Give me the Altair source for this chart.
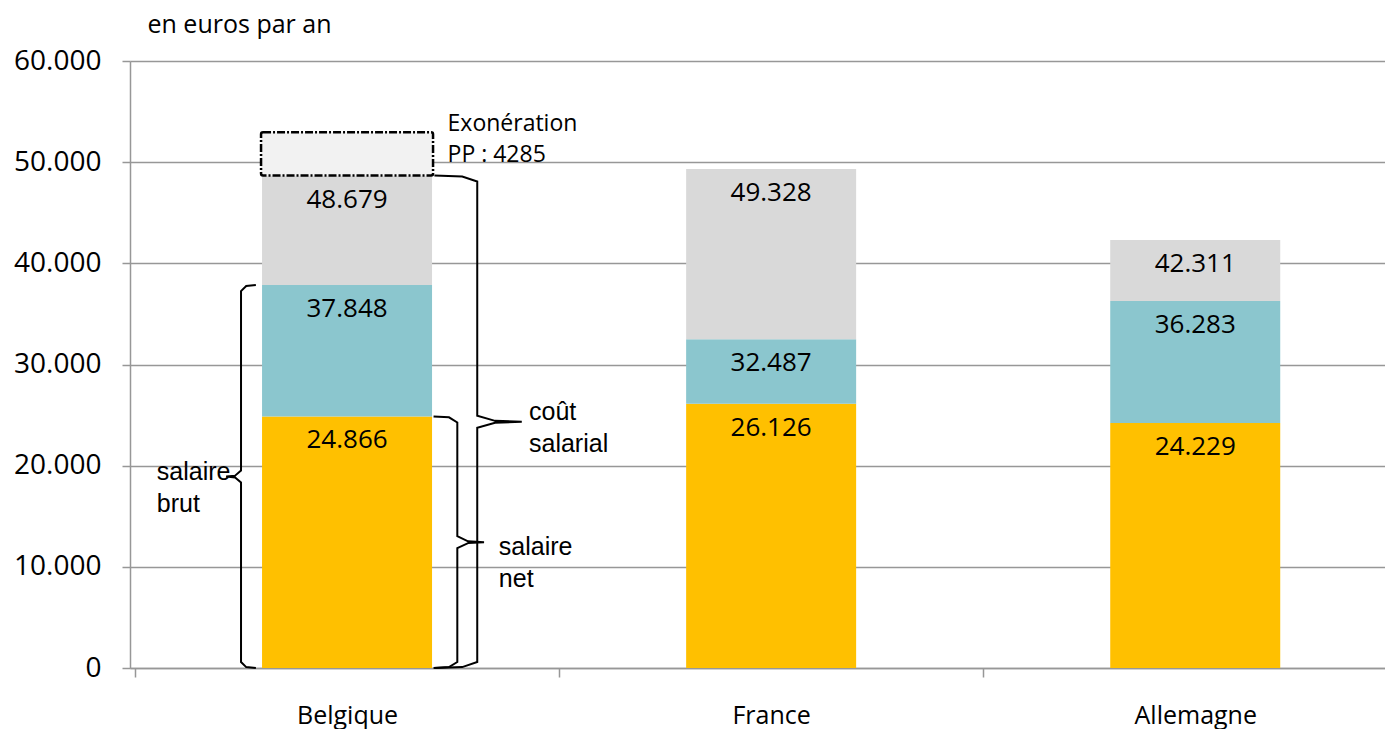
import altair as alt
import pandas as pd

# ---- data ----
countries = ["Belgique", "France", "Allemagne"]
salaire_net = [24866, 26126, 24229]
salaire_brut = [37848, 32487, 36283]
cout_salarial = [48679, 49328, 42311]
exoneration_pp = 4285          # Belgique only
exon_text = "Exonération\nPP : 4285"
label_brut = "salaire\nbrut"
label_net = "salaire\nnet"
label_cout = "coût\nsalarial"
y_title = "en euros par an"
y_ticks = [0, 10000, 20000, 30000, 40000, 50000, 60000]
segment_names = ["salaire net", "salaire brut", "coût salarial"]
segment_colors = ["#FFC000", "#8BC6CE", "#D9D9D9"]

# ---- layout / style ----
W, H = 1255, 607
PX = 427.5                     # pixels per category band
XMAX = W / PX
YMAX = 60000
FONT = "Open Sans"
ARIAL = "Liberation Sans"
GRID = "#979797"


def px2val(px):
    return px * YMAX / H


# segments
seg_rows, lab_rows = [], []
for i, c in enumerate(countries):
    center = i + 0.5
    bounds = [0, salaire_net[i], salaire_brut[i], cout_salarial[i]]
    for k, s in enumerate(segment_names):
        seg_rows.append({"country": c, "center": center, "segment": s,
                         "y0": bounds[k], "y1": bounds[k + 1]})
        lab_rows.append({"center": center, "top": bounds[k + 1]})
seg_df = pd.DataFrame(seg_rows)
lab_df = pd.DataFrame(lab_rows)

exon_df = pd.DataFrame([{"center": 0.5, "y0": cout_salarial[0],
                         "y1": cout_salarial[0] + exoneration_pp}])


# braces (built from the segment values of Belgique)
def brace(name, hook, line, tip, lo, hi):
    d = px2val(6)
    mid = (lo + hi) / 2
    pts = [
        (hook, hi),
        (line + (hook - line) * 0.35, hi - d * 0.15),
        (line, hi - d),
        (line, mid + d),
        (line + (tip - line) * 0.4, mid + d * 0.15),
        (tip, mid),
        (line + (tip - line) * 0.4, mid - d * 0.15),
        (line, mid - d),
        (line, lo + d),
        (line + (hook - line) * 0.35, lo + d * 0.15),
        (hook, lo),
    ]
    return [{"brace": name, "i": j, "x": x, "y": y} for j, (x, y) in enumerate(pts)]


c0 = 0.5
brace_df = pd.DataFrame(
    brace("brut", c0 - 0.215, c0 - 0.25, c0 - 0.285, 0, salaire_brut[0])
    + brace("net", c0 + 0.204, c0 + 0.26, c0 + 0.323, 0, salaire_net[0])
    + brace("cout", c0 + 0.206, c0 + 0.307, c0 + 0.412, 0, cout_salarial[0])
)

ann_df = pd.DataFrame([
    {"x": c0 - 0.4485, "y": salaire_brut[0] / 2 - px2val(3.5), "text": label_brut},
    {"x": c0 + 0.358, "y": salaire_net[0] / 2 - px2val(13), "text": label_net},
    {"x": c0 + 0.429, "y": cout_salarial[0] / 2 + px2val(2), "text": label_cout},
])
exon_lab_df = pd.DataFrame([{"x": c0 + 0.237,
                             "y": cout_salarial[0] + exoneration_pp + px2val(1),
                             "text": exon_text}])

x_scale = alt.Scale(domain=[0, XMAX], nice=False, zero=False)
y_scale = alt.Scale(domain=[0, YMAX], nice=False)

x_values = []
for i in range(len(countries)):
    x_values += [i, i + 0.5]
label_expr = " : ".join(f"datum.value == {i + 0.5} ? '{c}'" for i, c in enumerate(countries)) + " : ''"

x_axis = alt.Axis(
    values=x_values, labelExpr=label_expr, title=None, grid=False,
    tickSize=9, tickColor=GRID, tickWidth=1.5,
    tickOpacity={"condition": {"test": "datum.value % 1 === 0", "value": 1}, "value": 0},
    domainColor=GRID, domainWidth=1.5,
    labelFont=FONT, labelFontSize=25, labelColor="black",
    labelBaseline="alphabetic", labelPadding=46, labelOverlap=False,
    labelFlush=False, labelBound=False,
)
y_axis = alt.Axis(
    values=y_ticks, labelExpr="replace(format(datum.value, ','), ',', '.')",
    grid=True, gridColor=GRID, gridWidth=1.5,
    tickSize=8, tickColor=GRID, tickWidth=1.5,
    domainColor=GRID, domainWidth=1.5,
    labelFont=FONT, labelFontSize=28, labelColor="black", labelPadding=21,
    title=y_title, titleAngle=0, titleX=17, titleY=-29, titleAlign="left",
    titleBaseline="alphabetic", titleFont=FONT, titleFontSize=25,
    titleFontWeight="normal", titleColor="black",
)

bars = alt.Chart(seg_df).mark_bar(size=170).encode(
    x=alt.X("center:Q", scale=x_scale, axis=x_axis),
    y=alt.Y("y0:Q", scale=y_scale, axis=y_axis),
    y2="y1:Q",
    color=alt.Color("segment:N", scale=alt.Scale(domain=segment_names, range=segment_colors), legend=None),
)

exon = alt.Chart(exon_df).mark_bar(
    size=172, fill="#F2F2F2", stroke="black", strokeWidth=2.5, strokeDash=[8, 2, 2, 2],
    cornerRadius=2
).encode(x=alt.X("center:Q", scale=x_scale), y=alt.Y("y0:Q", scale=y_scale), y2="y1:Q")

labels = alt.Chart(lab_df).transform_calculate(
    label="replace(format(datum.top, ','), ',', '.')"
).mark_text(font=FONT, fontSize=26, baseline="middle", dy=24, color="black").encode(
    x=alt.X("center:Q", scale=x_scale), y=alt.Y("top:Q", scale=y_scale), text="label:N"
)

braces = alt.Chart(brace_df).mark_line(color="black", strokeWidth=2).encode(
    x=alt.X("x:Q", scale=x_scale), y=alt.Y("y:Q", scale=y_scale),
    detail="brace:N", order="i:Q",
)

ann = alt.Chart(ann_df).mark_text(
    align="left", baseline="alphabetic", lineBreak="\n", lineHeight=32,
    font=ARIAL, fontSize=25, color="black"
).encode(x=alt.X("x:Q", scale=x_scale), y=alt.Y("y:Q", scale=y_scale), text="text:N")

exon_lab = alt.Chart(exon_lab_df).mark_text(
    align="left", baseline="alphabetic", lineBreak="\n", lineHeight=31,
    font=FONT, fontSize=23, color="black"
).encode(x=alt.X("x:Q", scale=x_scale), y=alt.Y("y:Q", scale=y_scale), text="text:N")

chart = alt.layer(bars, exon, labels, braces, ann, exon_lab).properties(
    width=W, height=H,
    autosize=alt.AutoSizeParams(type="none"),
    padding={"left": 122, "top": 53, "right": 0, "bottom": 62},
).configure_view(strokeWidth=0)

chart.save("out.html", embed_options={"renderer": "svg", "actions": False})
